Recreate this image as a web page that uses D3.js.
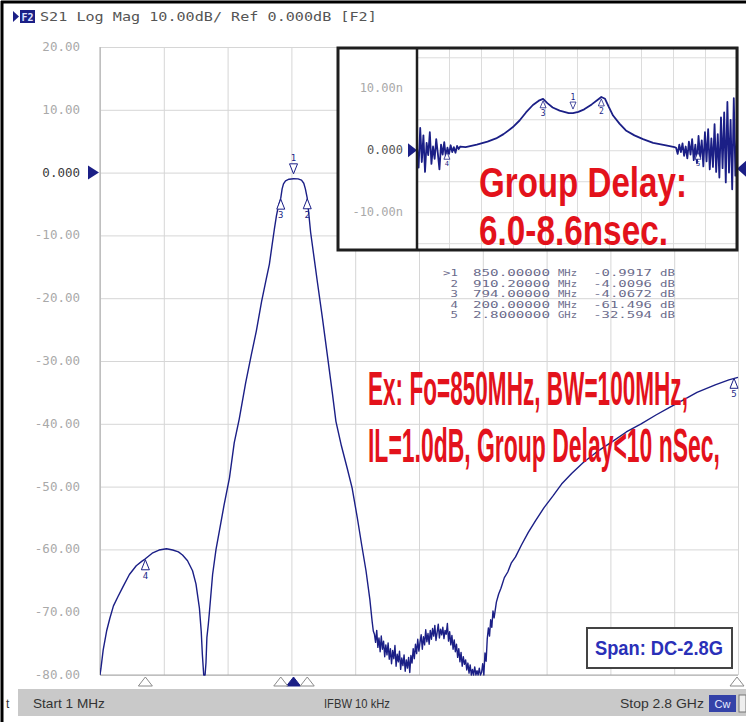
<!DOCTYPE html>
<html><head><meta charset="utf-8">
<script src="https://cdn.jsdelivr.net/npm/d3@7/dist/d3.min.js"></script>
<style>body{margin:0;background:#fff;}svg{display:block;}</style>
</head><body>
<svg id="c" width="746" height="722"></svg>
<script>
// ---------------- DATA ----------------
const headerText = "S21 Log Mag 10.00dB/ Ref 0.000dB [F2]";
const yTickValues = [20, 10, 0, -10, -20, -30, -40, -50, -60, -70, -80];
const yTickLabels = ["20.00","10.00","0.000","-10.00","-20.00","-30.00","-40.00","-50.00","-60.00","-70.00","-80.00"];
const startMHz = 1, stopMHz = 2800, xDivisions = 10;

// main S21 trace (MHz, dB)
const lobeFreq = [1,5,15,30,44,60,80,101,130,160,184,200,230,260,293,320,345,363,385,407,422,437,445,450,456,462];
const lobeDB   = [-80,-79,-76,-73,-71,-69,-67.5,-66,-64,-62.6,-61.9,-61.5,-60.6,-60.1,-59.9,-60.1,-60.4,-60.9,-61.8,-63.4,-65.5,-69.3,-73,-76.7,-80,-80];
const passFreq = [466,470,476,481,495,510,525,545,569,590,612,640,665,687,710,730,744,755,766,775,782,788,794,800,806,815,830,850,870,885,895,902,910,916,925,940,955,977,1000,1020,1036,1060,1085,1107,1130,1150,1168,1185,1195,1200];
const passDB   = [-78,-74,-72,-70,-64,-60,-57,-53,-48.6,-43,-39.2,-33.5,-29,-25.2,-20.5,-17,-14.6,-11.8,-9,-6.9,-5.6,-4.8,-4.07,-2.6,-1.8,-1.3,-1.05,-0.99,-1.0,-1.2,-1.7,-2.6,-4.01,-6.2,-9.5,-13.5,-17.5,-23.2,-29.5,-35,-39.6,-43.5,-47,-50.2,-55,-59.5,-63.4,-68,-71.5,-73];
const floorStartMHz = 1205, floorStepMHz = 5;
const floorDB = [
 -73.5,-74.8,-72.9,-75.6,-74.1,-76.3,-73.8,-75.9,-74.6,-77.1,
 -75.2,-76.8,-74.9,-77.5,-75.8,-78.2,-76.1,-77.4,-75.3,-78.6,
 -76.7,-77.9,-76.2,-79.1,-77.3,-78.5,-76.8,-79.4,-77.6,-78.9,
 -77.2,-79.6,-76.9,-78.1,-75.8,-77.4,-75.1,-76.6,-74.3,-76.2,
 -74.8,-73.6,-75.9,-73.9,-75.2,-72.8,-74.7,-73.4,-75.1,-72.9,
 -74.3,-72.6,-73.8,-72.1,-74.5,-73.2,-71.9,-74.1,-72.7,-73.6,
 -72.4,-74.2,-72.9,-73.5,-71.8,-74.6,-73.1,-75.2,-73.7,-75.9,
 -74.4,-76.3,-75.1,-77.2,-75.8,-77.9,-76.4,-78.6,-77.1,-78.3,
 -77.6,-79.2,-78.1,-79.7,-78.4,-80,-79.1,-80,-78.7,-80,
 -79.3,-80,-78.9,-80,-79.6,-78.2,-80,-76.5,-77.8,-74.2];
const riseFreq = [1705,1710,1715,1720,1725,1730,1740,1750,1760,1775,1790,1805,1824,1850,1880,1912,1950,1990,2026,2070,2120,2187,2250,2310,2375,2440,2500,2551,2620,2700,2760,2800];
const riseDB   = [-72.5,-73.8,-71.2,-72.4,-69.8,-70.9,-68.4,-67.1,-66.2,-64.5,-63.6,-62.2,-61.2,-59.3,-57.3,-55.4,-53.3,-51.4,-49.6,-47.9,-46.2,-44.3,-42.8,-41.3,-40,-38.6,-37.4,-36.4,-35,-33.8,-33,-32.6];

// markers
const markerIds      = [">1","2","3","4","5"];
const markerNums     = ["1","2","3","4","5"];
const markerFreqMHz  = [850, 910.2, 794, 200, 2800];
const markerDB       = [-0.9917, -4.0096, -4.0672, -61.496, -32.594];
const markerFreqText = ["850.00000","910.20000","794.00000","200.00000","2.8000000"];
const markerUnit     = ["MHz","MHz","MHz","MHz","GHz"];
const markerValText  = ["-0.9917","-4.0096","-4.0672","-61.496","-32.594"];

// inset: group delay (ns)
const insetStartMHz = 558, insetStopMHz = 1157;
const insetTickValues = [10, 0, -10];
const insetTickLabels = ["10.00n","0.000","-10.00n"];
const gdLeftStart = 558, gdStep = 3;
const gdLeftNoise = [0.5,-2.8,3.6,-1.9,2.4,-3.5,1.2,-0.8,2.9,-2.2,0.6,-1.4,1.8,-0.5,-3.1,0.9,-0.7,1.3,-1.1,0.4,-0.6,0.8,-0.3,0.5,-0.4,0.7,0.2,0.6];
const gdFreq = [649,670,690,706,720,737,750,762,775,786,794,802,812,825,842,850,860,871,885,897,903,910,917,925,937,949,965,981,1000,1024,1040];
const gdNs   = [0.5,0.9,1.4,1.9,2.6,3.7,4.8,6.1,7.3,8.0,8.3,7.6,6.9,6.4,6.0,6.0,6.2,6.6,7.4,8.2,8.6,8.3,7.0,5.6,4.3,3.2,2.4,1.8,1.2,0.8,0.5];
const gdRightStart = 1043;
const gdRightNoise = [0.4,-0.6,0.9,-0.3,1.1,-0.9,0.6,-1.3,1.4,-0.7,1.8,-1.6,0.9,-2.1,2.3,-1.2,1.6,-2.6,2.9,-1.8,3.4,-3.1,1.9,-2.7,4.2,-3.5,2.6,-4.4,5.3,-2.9,6.1,-5.2,7.8,-3.6,4.9,-6.3,8.4,-4.1,2.2];
const insetMarkerNums = ["3","1","2"];
const insetMarkerFreq = [794, 850, 903];
const insetMarkerNs   = [8.3, 6.0, 8.6];
const insetEdgeMarkerNums = ["4","5"];
const insetEdgeMarkerFreq = [614, 1084];

const noteGD = ["Group Delay:", "6.0-8.6nsec."];
const noteSpec = ["Ex: Fo=850MHz, BW=100MHz,", "IL=1.0dB, Group Delay<10 nSec,"];
const spanText = "Span: DC-2.8G";
const statusStart = "Start 1 MHz", statusIFBW = "IFBW 10 kHz", statusStop = "Stop 2.8 GHz";

// ---------------- DRAW ----------------
const svg = d3.select("#c");
const NAVY = "#1b1f86", RED = "#e3121b", GRID = "#d6d6d6";
const L = 100, R = 738, T = 47, B = 675;
const x = d3.scaleLinear().domain([startMHz, stopMHz]).range([L, R]);
const y = d3.scaleLinear().domain([-80, 20]).range([B, T]);
const mono = "'DejaVu Sans Mono', 'Liberation Mono', monospace";

// helper: draw text squeezed horizontally to an exact width (via transform, so its box is right)
function fitText(parent, txt, xx, yy, len, anchor) {
  const g = parent.append("g");
  const t = g.append("text").attr("x",0).attr("y",0).text(txt);
  return {g, t, place() {
    const w = t.node().getComputedTextLength();
    const sx = len / w;
    const x0 = anchor === "end" ? xx - len : xx;
    g.attr("transform", `translate(${x0},${yy}) scale(${sx},1)`);
    return g;
  }};
}

// outer frame
svg.append("rect").attr("x",0).attr("y",0).attr("width",746).attr("height",722).attr("fill","#fff");
svg.append("line").attr("x1",2).attr("x2",2).attr("y1",1).attr("y2",722).attr("stroke","#000").attr("stroke-width",3);
svg.append("line").attr("x1",1).attr("x2",746).attr("y1",2).attr("y2",2).attr("stroke","#000").attr("stroke-width",3);

// header
svg.append("path").attr("d","M13,11 L19,16.5 L13,22 Z").attr("fill",NAVY);
svg.append("rect").attr("x",20).attr("y",10).attr("width",15).attr("height",13).attr("fill",NAVY);
svg.append("text").attr("x",27.5).attr("y",20.5).attr("text-anchor","middle").attr("fill","#dfe3ff")
  .attr("font-family",mono).attr("font-size",10).attr("font-weight","bold").text("F2");
{
  const h = fitText(svg, headerText, 40, 21, 337);
  h.t.attr("fill","#555").attr("font-family",mono).attr("font-size",13);
  h.place();
}

// grid
const divX = d3.range(xDivisions + 1).map(i => startMHz + i * (stopMHz - startMHz) / xDivisions);
svg.append("g").attr("transform",`translate(0,${B})`)
  .call(d3.axisBottom(x).tickValues(divX).tickSize(-(B - T)).tickFormat(""))
  .call(g => { g.select(".domain").remove(); g.selectAll("line").attr("stroke",GRID); });
svg.append("g").attr("transform",`translate(${L},0)`)
  .call(d3.axisLeft(y).tickValues(yTickValues).tickSize(-(R - L)).tickFormat(""))
  .call(g => { g.select(".domain").remove(); g.selectAll("line").attr("stroke",GRID); });
svg.append("line").attr("x1",L).attr("x2",L).attr("y1",T).attr("y2",B).attr("stroke","#a8a8a8");
svg.append("line").attr("x1",L).attr("x2",R).attr("y1",B).attr("y2",B).attr("stroke","#a8a8a8");

// y labels
yTickValues.forEach((v, i) => {
  svg.append("text").attr("x",80).attr("y",y(v)+4).attr("text-anchor","end")
    .attr("font-family",mono).attr("font-size",12.5)
    .attr("fill", v === 0 ? "#3a3a3a" : "#a9a9a9").text(yTickLabels[i]);
});
svg.append("path").attr("d",`M88,${y(0)-7} L99,${y(0)} L88,${y(0)+7} Z`).attr("fill",NAVY);

// trace
svg.append("clipPath").attr("id","pc").append("rect").attr("x",L).attr("y",T-2).attr("width",R-L+1).attr("height",B-T+3);
const mainPts = [];
lobeFreq.forEach((f,i)=>mainPts.push([f, lobeDB[i]]));
passFreq.forEach((f,i)=>mainPts.push([f, passDB[i]]));
floorDB.forEach((v,i)=>mainPts.push([floorStartMHz + i*floorStepMHz, v]));
riseFreq.forEach((f,i)=>mainPts.push([f, riseDB[i]]));
const line = d3.line().x(d => x(d[0])).y(d => y(d[1]));
svg.append("path").attr("clip-path","url(#pc)").attr("d", line(mainPts))
  .attr("fill","none").attr("stroke",NAVY).attr("stroke-width",1.4).attr("stroke-linejoin","round");

// trace markers
markerNums.forEach((n, i) => {
  const px = x(markerFreqMHz[i]), py = y(markerDB[i]);
  const g = svg.append("g");
  if (i === 0) {
    g.append("path").attr("d",`M${px-4},${py-15} L${px+4},${py-15} L${px},${py-5} Z`).attr("fill","#fff").attr("stroke",NAVY).attr("stroke-width",1);
    g.append("text").attr("x",px).attr("y",py-18).attr("text-anchor","middle").attr("font-family",mono).attr("font-size",9).attr("fill",NAVY).text(n);
  } else {
    const cx = Math.min(px, R - 4);
    g.append("path").attr("d",`M${cx},${py+1} L${cx+4},${py+11} L${cx-4},${py+11} Z`).attr("fill","#fff").attr("stroke",NAVY).attr("stroke-width",1);
    g.append("text").attr("x",cx).attr("y",py+20).attr("text-anchor","middle").attr("font-family",mono).attr("font-size",9).attr("fill",NAVY).text(n);
  }
});
// stimulus markers on bottom
markerNums.forEach((n, i) => {
  const px = Math.min(x(markerFreqMHz[i]), R - 1);
  svg.append("path").attr("d",`M${px},${B+2} L${px+7},${B+11} L${px-7},${B+11} Z`)
    .attr("fill", i === 0 ? NAVY : "#fff").attr("stroke", i === 0 ? NAVY : "#8a8a8a").attr("stroke-width",1);
});

// ---------------- INSET ----------------
const IL = 338, IR = 737, IT = 48, IB = 250, IPL = 417;
const ix = d3.scaleLinear().domain([insetStartMHz, insetStopMHz]).range([IPL, IR]);
const iy = d3.scaleLinear().domain([-16.1, 16.5]).range([IB, IT]);
svg.append("rect").attr("x",IL).attr("y",IT).attr("width",IR-IL).attr("height",IB-IT).attr("fill","#fff");
const insetDivX = d3.range(11).map(i => insetStartMHz + i*(insetStopMHz-insetStartMHz)/10);
svg.append("g").attr("transform",`translate(0,${IB})`)
  .call(d3.axisBottom(ix).tickValues(insetDivX).tickSize(-(IB-IT)).tickFormat(""))
  .call(g => { g.select(".domain").remove(); g.selectAll("line").attr("stroke","#dcdcdc"); });
svg.append("g").attr("transform",`translate(${IPL},0)`)
  .call(d3.axisLeft(iy).tickValues([15,10,5,0,-5,-10,-15]).tickSize(-(IR-IPL)).tickFormat(""))
  .call(g => { g.select(".domain").remove(); g.selectAll("line").attr("stroke","#dcdcdc"); });
insetTickValues.forEach((v,i) => {
  svg.append("text").attr("x",403).attr("y",iy(v)+4).attr("text-anchor","end").attr("font-family",mono)
    .attr("font-size",12).attr("fill", v === 0 ? "#555" : "#a9a9a9").text(insetTickLabels[i]);
});
const gdPts = [];
gdLeftNoise.forEach((v,i)=>gdPts.push([gdLeftStart + i*gdStep, v]));
gdFreq.forEach((f,i)=>gdPts.push([f, gdNs[i]]));
gdRightNoise.forEach((v,i)=>gdPts.push([gdRightStart + i*gdStep, v]));
svg.append("clipPath").attr("id","ic").append("rect").attr("x",IPL).attr("y",IT).attr("width",IR-IPL).attr("height",IB-IT);
const gline = d3.line().x(d => ix(d[0])).y(d => iy(d[1]));
svg.append("path").attr("clip-path","url(#ic)").attr("d", gline(gdPts)).attr("fill","none")
  .attr("stroke",NAVY).attr("stroke-width",1.8).attr("stroke-linejoin","round");
insetMarkerNums.forEach((n,i) => {
  const px = ix(insetMarkerFreq[i]), py = iy(insetMarkerNs[i]);
  if (n === "1") {
    svg.append("path").attr("d",`M${px-3},${py-11} L${px+3},${py-11} L${px},${py-4} Z`).attr("fill","#fff").attr("stroke",NAVY).attr("stroke-width",0.8);
    svg.append("text").attr("x",px).attr("y",py-13).attr("text-anchor","middle").attr("font-family",mono).attr("font-size",8).attr("fill",NAVY).text(n);
  } else {
    svg.append("path").attr("d",`M${px},${py+2} L${px+3},${py+9} L${px-3},${py+9} Z`).attr("fill","#fff").attr("stroke",NAVY).attr("stroke-width",0.8);
    svg.append("text").attr("x",px).attr("y",py+17).attr("text-anchor","middle").attr("font-family",mono).attr("font-size",8).attr("fill",NAVY).text(n);
  }
});
insetEdgeMarkerNums.forEach((n,i) => {
  const px = ix(insetEdgeMarkerFreq[i]), py = iy(0);
  svg.append("path").attr("d",`M${px},${py+2} L${px+3},${py+9} L${px-3},${py+9} Z`).attr("fill","#fff").attr("stroke",NAVY).attr("stroke-width",0.8);
  svg.append("text").attr("x",px).attr("y",py+16).attr("text-anchor","middle").attr("font-family",mono).attr("font-size",7).attr("fill",NAVY).text(n);
});
svg.append("path").attr("d",`M${IPL-9},${iy(0)-7} L${IPL},${iy(0)} L${IPL-9},${iy(0)+7} Z`).attr("fill",NAVY);
svg.append("path").attr("d",`M${IR+9},${iy(-3)-8} L${IR},${iy(-3)} L${IR+9},${iy(-3)+8} Z`).attr("fill",NAVY);
svg.append("rect").attr("x",IL).attr("y",IT).attr("width",IR-IL).attr("height",IB-IT).attr("fill","none").attr("stroke","#1e1e1e").attr("stroke-width",3);
svg.append("line").attr("x1",IPL).attr("x2",IPL).attr("y1",IT).attr("y2",IB).attr("stroke","#1e1e1e").attr("stroke-width",2.5);

// marker table
const rowY = [276, 286.5, 297, 307.5, 318];
markerIds.forEach((id,i) => {
  const cells = [
    [id, 458, id.length * 7.5, "end"],
    [markerFreqText[i], 473, 77, "start"],
    [markerUnit[i], 558, 19, "start"],
    [markerValText[i], 652, markerValText[i].length * 8.4, "end"],
    ["dB", 660, 15, "start"]
  ];
  cells.forEach(c => {
    const f = fitText(svg, c[0], c[1], rowY[i], c[2], c[3]);
    f.t.attr("font-family",mono).attr("font-size",9.5).attr("fill","#6c6c8c");
    f.place();
  });
});

// red annotations
const redFont = "'Liberation Sans Narrow','Arial Narrow','Liberation Sans',Arial,sans-serif";
function red(txt, xx, yy, size, len) {
  const f = fitText(svg, txt, xx, yy, len);
  f.t.attr("font-family",redFont).attr("font-weight","bold").attr("font-size",size).attr("fill",RED);
  f.place();
}
red(noteGD[0], 479, 197, 42, 208);
red(noteGD[1], 479, 245, 42, 189);
red(noteSpec[0], 368, 405, 48, 320);
red(noteSpec[1], 368, 462, 48, 352);

// span box
svg.append("rect").attr("x",587).attr("y",628).attr("width",145).attr("height",40).attr("fill","#fff").attr("stroke","#444").attr("stroke-width",2);
{
  const f = fitText(svg, spanText, 595, 655, 128);
  f.t.attr("font-family","'Liberation Sans',Arial,sans-serif").attr("font-weight","bold").attr("font-size",20).attr("fill","#2a30b8");
  f.place();
}

// status bar
svg.append("rect").attr("x",18).attr("y",689).attr("width",728).attr("height",27).attr("fill","#c9c9c9");
const sans = "'Liberation Sans',Arial,sans-serif";
svg.append("text").attr("x",6).attr("y",708).attr("font-family",sans).attr("font-size",12).attr("fill","#333").text("t");
[[statusStart, 33, 72], [statusIFBW, 324, 66], [statusStop, 620, 84]].forEach(s => {
  const f = fitText(svg, s[0], s[1], 708, s[2]);
  f.t.attr("font-family",sans).attr("font-size",12).attr("fill","#333");
  f.place();
});
svg.append("rect").attr("x",709).attr("y",695).attr("width",27).attr("height",17).attr("fill","#3442a8");
svg.append("text").attr("x",722.5).attr("y",708).attr("text-anchor","middle").attr("font-family",sans).attr("font-size",11).attr("fill","#e8ecff").text("Cw");
svg.append("rect").attr("x",739).attr("y",695).attr("width",7).attr("height",17).attr("fill","#eee").attr("stroke","#777");
</script>
</body></html>
